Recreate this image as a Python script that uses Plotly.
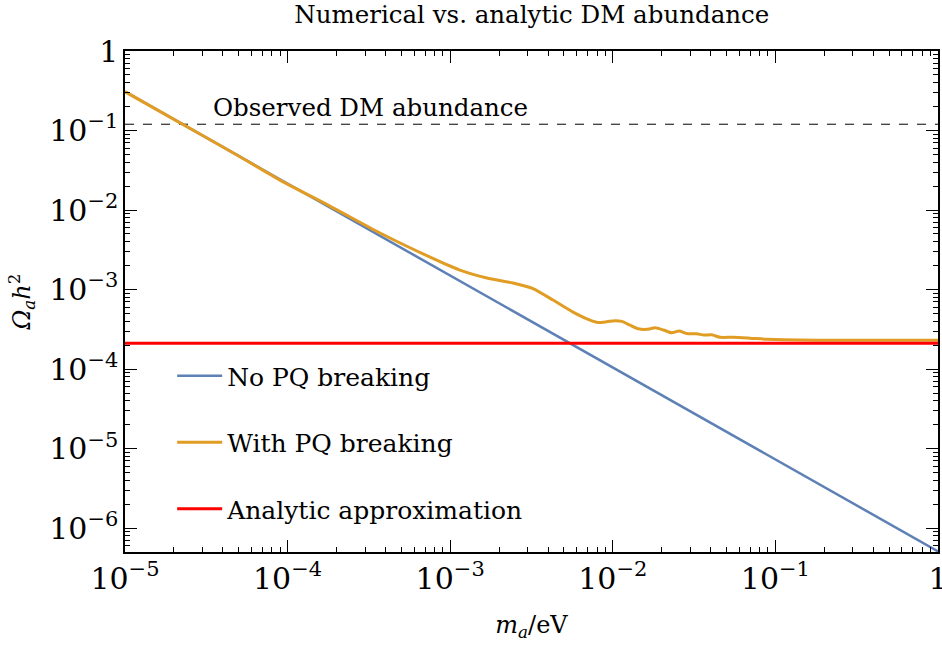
import math
import plotly.graph_objects as go

# Data
m_blue = [1e-5, 1e-4, 1e-3, 1e-2, 1e-1, 1.0]
omega_blue = [0.308, 0.0215, 1.50e-3, 1.047e-4, 7.31e-6, 5.1e-7]

m_orange = [1e-5, 2e-5, 5e-5, 8.97e-5, 1.82e-4, 3.70e-4, 7.52e-4, 1.148e-3, 1.683e-3,
            2.43e-3, 3.23e-3, 4.29e-3, 5.69e-3, 7.24e-3, 8.11e-3, 9.18e-3, 1.033e-2,
            1.135e-2, 1.276e-2, 1.436e-2, 1.614e-2, 1.82e-2, 2.05e-2, 2.30e-2, 2.56e-2,
            2.84e-2, 3.28e-2, 3.64e-2, 4.06e-2, 4.56e-2, 5.51e-2, 6.98e-2, 8.85e-2,
            0.1416, 0.227, 0.364, 1.0]
omega_orange = [0.308, 0.138, 0.0479, 0.0238, 0.01122, 5.14e-3, 2.56e-3, 1.76e-3, 1.40e-3,
                1.21e-3, 1.03e-3, 7.38e-4, 5.21e-4, 4.13e-4, 3.86e-4, 3.94e-4, 4.06e-4,
                3.98e-4, 3.57e-4, 3.21e-4, 3.16e-4, 3.30e-4, 3.10e-4, 2.86e-4, 3.01e-4,
                2.81e-4, 2.78e-4, 2.68e-4, 2.70e-4, 2.51e-4, 2.51e-4, 2.45e-4, 2.38e-4,
                2.32e-4, 2.30e-4, 2.30e-4, 2.30e-4]

m_red = [1e-5, 1.0]
omega_red = [2.12e-4, 2.12e-4]

m_obs = [1e-5, 1.0]
omega_obs = [0.12, 0.12]

obs_label = "Observed DM abundance"
obs_label_x = 10 ** -4.47

FONT = "DejaVu Serif"

fig = go.Figure()
fig.add_trace(go.Scatter(x=m_obs, y=omega_obs, mode="lines", showlegend=False,
                         line=dict(color="black", width=1, dash="dash")))
fig.add_trace(go.Scatter(x=m_blue, y=omega_blue, mode="lines", name="No PQ breaking",
                         legendgroup="a", line=dict(color="#5E81B5", width=2.5)))
fig.add_trace(go.Scatter(x=m_orange, y=omega_orange, mode="lines", name="With PQ breaking",
                         legendgroup="b", line=dict(color="#E19C24", width=3, shape="spline", smoothing=0.6)))
fig.add_trace(go.Scatter(x=m_red, y=omega_red, mode="lines", name="Analytic approximation",
                         legendgroup="c", line=dict(color="#FF0000", width=3)))

fig.add_annotation(x=math.log10(obs_label_x), y=math.log10(omega_obs[0]), xref="x", yref="y",
                   text=obs_label, showarrow=False, xanchor="left", yanchor="bottom", yshift=0,
                   font=dict(family=FONT, size=24.5, color="black"))

axis_common = dict(
    type="log", showgrid=False, zeroline=False, showline=True, linecolor="black",
    linewidth=1.5, mirror="ticks", ticks="inside", ticklen=12, tickwidth=1.2,
    tickcolor="black", dtick=1, exponentformat="power", ticklabeloverflow="allow",
    automargin=False,
    tickfont=dict(family=FONT, size=24, color="black"),
    minor=dict(ticks="inside", ticklen=5, tickwidth=1, tickcolor="black", dtick="D1", showgrid=False),
)

fig.update_layout(
    width=942, height=646,
    margin=dict(l=125, r=4, t=51, b=94),
    paper_bgcolor="white", plot_bgcolor="white",
    title=dict(text="Numerical vs. analytic DM abundance", x=0.5645, xanchor="center",
               y=0.977, yanchor="middle", font=dict(family=FONT, size=24.5, color="black"),
               automargin=False),
    xaxis=dict(axis_common, range=[-5, 0],
               title=dict(text="<i>m<sub>a</sub></i>/eV", font=dict(family=FONT, size=24, color="black"), standoff=22)),
    yaxis=dict(axis_common, range=[-6.30, 0],
               title=dict(text="<i>Ω<sub>a</sub>h</i><sup>2</sup>", font=dict(family=FONT, size=24, color="black"), standoff=12)),
    legend=dict(x=0.058, y=0.397, xanchor="left", yanchor="top", bgcolor="rgba(0,0,0,0)",
                font=dict(family=FONT, size=25, color="black"), itemwidth=45,
                tracegroupgap=31, traceorder="grouped"),
    showlegend=True,
)

fig.write_html("out.html")
